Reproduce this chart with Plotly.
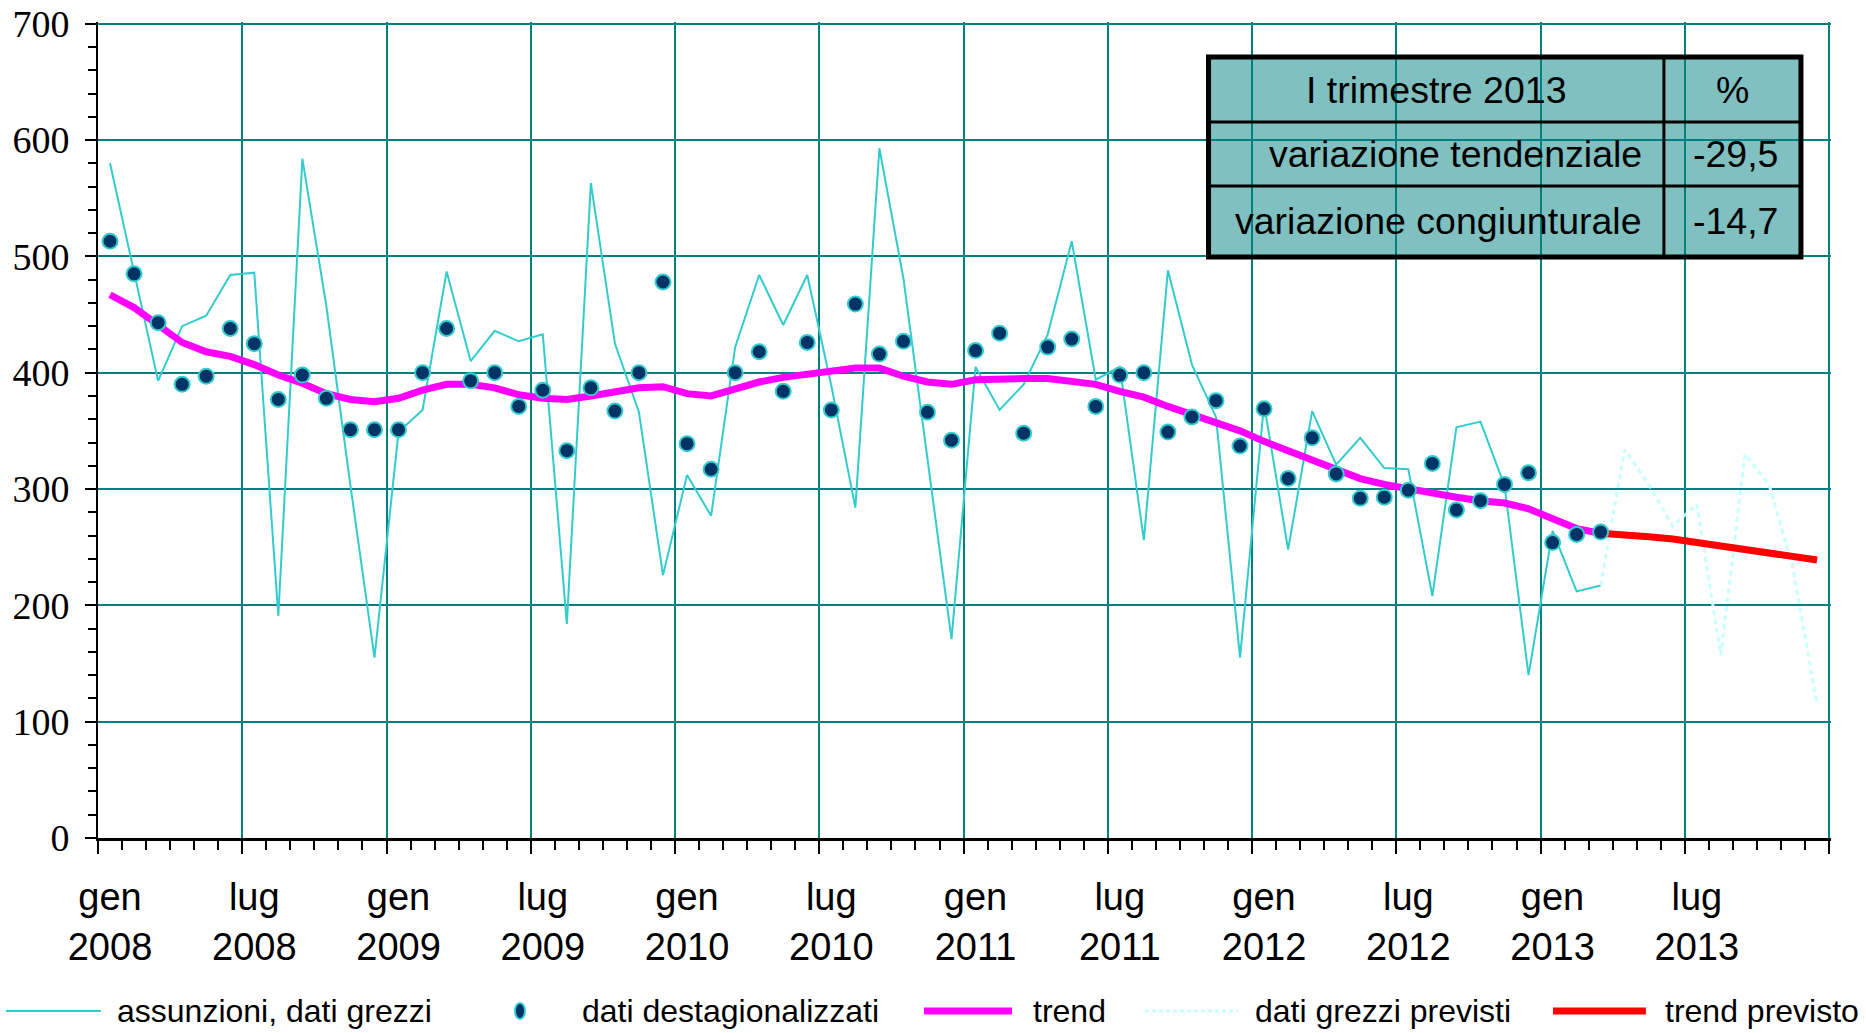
import numpy as np
import plotly.graph_objects as go

# ---------------- data (monthly, gen 2008 - mar 2013) ----------------
raw = [580, 487, 393, 440, 449, 484, 486, 191, 584, 457, 303, 155,
       349, 368, 487, 410, 436, 427, 433, 184, 563, 425, 366, 226,
       312, 277, 422, 484, 441, 484, 389, 284, 593, 481, 328, 171,
       405, 368, 390, 433, 513, 394, 405, 256, 488, 407, 362, 155,
       373, 248, 367, 321, 344, 318, 317, 208, 353, 358, 303, 140,
       264, 212, 217]
destag = [513, 485, 443, 390, 397, 438, 425, 377, 398, 378, 351, 351,
          351, 400, 438, 393, 400, 371, 385, 333, 387, 367, 400, 478,
          339, 317, 400, 418, 384, 426, 368, 459, 416, 427, 366, 342,
          419, 434, 348, 422, 429, 371, 398, 400, 349, 362, 376, 337,
          369, 309, 344, 313, 292, 293, 299, 322, 282, 290, 304, 314,
          254, 261, 263]
trend = [467, 456, 441, 426, 418, 414, 407, 398, 391, 382, 377, 375,
         378, 385, 390, 390, 387, 381, 378, 377, 380, 383, 387, 388,
         382, 380, 386, 392, 396, 399, 401, 404, 404, 397, 392, 390,
         394, 395, 395, 395, 392, 390, 384, 379, 371, 364, 356, 350,
         341, 333, 326, 317, 309, 304, 300, 296, 293, 290, 288, 283,
         274, 266, 262]
# forecasts mar 2013 - dic 2013 (first value = last observed month)
raw_forecast = [217, 334, 304, 268, 287, 157, 330, 304, 232, 114]
trend_forecast = [262, 261, 259, 257, 254, 250, 247, 244, 241, 239]

tick_month_names = ["gen", "lug"]
tick_years = [2008, 2009, 2010, 2011, 2012, 2013]

table_header = ["I trimestre 2013", "%"]
table_labels = ["variazione tendenziale", "variazione congiunturale"]
table_values = ["-29,5", "-14,7"]

legend_names = ["assunzioni, dati grezzi", "dati destagionalizzati", "trend",
                "dati grezzi previsti", "trend previsto"]

# ---------------- styles ----------------
C_RAW = "#33CCCC"
C_DOT = "#003366"
C_TREND = "#FF00FF"
C_FRAW = "#C8FFFF"
C_FTREND = "#FF0000"
C_GRID = "#008080"
C_TABLE = "#80C0C0"
SANS = "Liberation Sans, Arial, sans-serif"
SERIF = "Liberation Serif, Times New Roman, serif"

# month positions (mid-month on a monthly axis)
x_obs = np.arange(len(raw)) + 0.5
x_fc = np.arange(len(raw) - 1, len(raw) - 1 + len(raw_forecast)) + 0.5
n_months = 12 * len(tick_years)
x_range = [0, n_months + 0.08]
y_range = [0, 701.5]

major_vals = list(range(0, n_months + 1, 6))
major_text = [f"{tick_month_names[k % 2]}<br>{tick_years[k // 2]}"
              for k in range(len(major_vals) - 1)] + [""]

fig = go.Figure()
fig.add_trace(go.Scatter(x=x_obs, y=raw, mode="lines", name=legend_names[0],
                         line=dict(color=C_RAW, width=2), showlegend=False))
fig.add_trace(go.Scatter(x=x_fc, y=raw_forecast, mode="lines", name=legend_names[3],
                         line=dict(color=C_FRAW, width=3, dash="5px,4px"),
                         showlegend=False))
fig.add_trace(go.Scatter(x=x_obs, y=trend, mode="lines", name=legend_names[2],
                         line=dict(color=C_TREND, width=7), showlegend=False))
fig.add_trace(go.Scatter(x=x_fc, y=trend_forecast, mode="lines", name=legend_names[4],
                         line=dict(color=C_FTREND, width=7), showlegend=False))
fig.add_trace(go.Scatter(x=x_obs, y=destag, mode="markers", name=legend_names[1],
                         marker=dict(color=C_DOT, size=15,
                                     line=dict(color=C_RAW, width=2)),
                         showlegend=False))

# ---------------- summary table (drawn as shapes + annotations) ----------------
tx0, tx1, tdiv = 46.19, 70.83, 65.13
ty0, ty1 = 499.5, 671.4
row_lines = [615.5, 560.5]
fig.add_shape(type="rect", xref="x", yref="y", x0=tx0, x1=tx1, y0=ty0, y1=ty1,
              fillcolor=C_TABLE, line=dict(width=0), layer="below")
for ry in row_lines:
    fig.add_shape(type="line", xref="x", yref="y", x0=tx0, x1=tx1, y0=ry, y1=ry,
                  line=dict(color="black", width=3))
fig.add_shape(type="line", xref="x", yref="y", x0=tdiv, x1=tdiv, y0=ty0, y1=ty1,
              line=dict(color="black", width=3))
fig.add_shape(type="rect", xref="x", yref="y", x0=tx0, x1=tx1, y0=ty0, y1=ty1,
              line=dict(color="black", width=5), fillcolor="rgba(0,0,0,0)")

row_centers = [(ty1 + row_lines[0]) / 2, (row_lines[0] + row_lines[1]) / 2,
               (row_lines[1] + ty0) / 2]
tfont = dict(family=SANS, size=37.5, color="black")
fig.add_annotation(x=(tx0 + tdiv) / 2, y=row_centers[0], text=table_header[0],
                   showarrow=False, xanchor="center", yanchor="middle", font=tfont)
fig.add_annotation(x=(tdiv + tx1) / 2, y=row_centers[0], text=table_header[1],
                   showarrow=False, xanchor="center", yanchor="middle", font=tfont)
for k in range(2):
    fig.add_annotation(x=tdiv - 0.83, y=row_centers[k + 1], text=table_labels[k],
                       showarrow=False, xanchor="right", yanchor="middle", font=tfont)
    fig.add_annotation(x=tx1 - 0.87, y=row_centers[k + 1], text=table_values[k],
                       showarrow=False, xanchor="right", yanchor="middle", font=tfont)

# ---------------- custom legend below the plot ----------------
ly = -0.2120
lfont = dict(family=SANS, size=32, color="black")
leg_lines = [  # (x0, x1, color, width, dash)
    (-0.0531, 0.0017, C_RAW, 2, "solid"),
    (0.4766, 0.5274, C_TREND, 7, "solid"),
    (0.6042, 0.6578, C_FRAW, 3, "4px,3px"),
    (0.8396, 0.8932, C_FTREND, 7, "solid"),
]
for x0, x1, col, w, d in leg_lines:
    fig.add_shape(type="line", xref="paper", yref="paper", x0=x0, x1=x1, y0=ly, y1=ly,
                  line=dict(color=col, width=w, dash=d))
fig.add_shape(type="circle", xref="paper", yref="paper", xsizemode="pixel",
              ysizemode="pixel", xanchor=0.2435, yanchor=ly, x0=-5, x1=5, y0=-8, y1=8,
              fillcolor=C_DOT, line=dict(color=C_RAW, width=2))
leg_text_x = [0.0098, 0.2781, 0.5384, 0.6665, 0.9030]
for tx, name in zip(leg_text_x, legend_names):
    fig.add_annotation(xref="paper", yref="paper", x=tx, y=ly, text=name,
                       showarrow=False, xanchor="left", yanchor="middle", font=lfont)

# ---------------- axes ----------------
fig.update_layout(
    width=1866, height=1033, autosize=False,
    margin=dict(l=98, r=35, t=22, b=195, pad=0),
    paper_bgcolor="white", plot_bgcolor="white",
    showlegend=False,
    xaxis=dict(range=x_range, tickmode="array", tickvals=major_vals,
               ticktext=major_text, ticks="outside", ticklen=13, tickwidth=2,
               tickcolor="black", showgrid=True, gridcolor=C_GRID, gridwidth=2,
               showline=True, linecolor="black", linewidth=2.5, zeroline=False,
               automargin=False, ticklabelstandoff=11, ticklabelshift=12,
               ticklabeloverflow="allow",
               tickfont=dict(family=SANS, size=38, color="black"),
               minor=dict(tickmode="linear", tick0=0, dtick=1, ticks="outside",
                          ticklen=9, tickwidth=2, tickcolor="black", showgrid=False)),
    yaxis=dict(range=y_range, tickmode="linear", tick0=0, dtick=100,
               ticks="outside", ticklen=11, tickwidth=2, tickcolor="black",
               showgrid=True, gridcolor=C_GRID, gridwidth=2,
               showline=True, linecolor="black", linewidth=2, zeroline=False,
               automargin=False, ticklabelstandoff=8, ticklabeloverflow="allow",
               tickfont=dict(family=SERIF, size=38, color="black"),
               minor=dict(tickmode="linear", tick0=0, dtick=20, ticks="outside",
                          ticklen=8, tickwidth=2, tickcolor="black", showgrid=False)),
    xaxis2=dict(overlaying="x", anchor="y", side="bottom", range=x_range,
                tickmode="array", tickvals=major_vals, ticks="inside", ticklen=11,
                tickwidth=2, tickcolor="black", showticklabels=False, automargin=False,
                showgrid=False, zeroline=False, showline=False),
    yaxis2=dict(overlaying="y", anchor="x", side="left", range=y_range,
                tickmode="linear", tick0=0, dtick=100, ticks="inside", ticklen=9,
                tickwidth=2, tickcolor="black", showticklabels=False, automargin=False,
                showgrid=False, zeroline=False, showline=False),
)

fig.write_html("out.html",
               config={"displayModeBar": False},
               post_script="document.body.style.margin='0px';"
                           "document.body.style.overflow='hidden';")
